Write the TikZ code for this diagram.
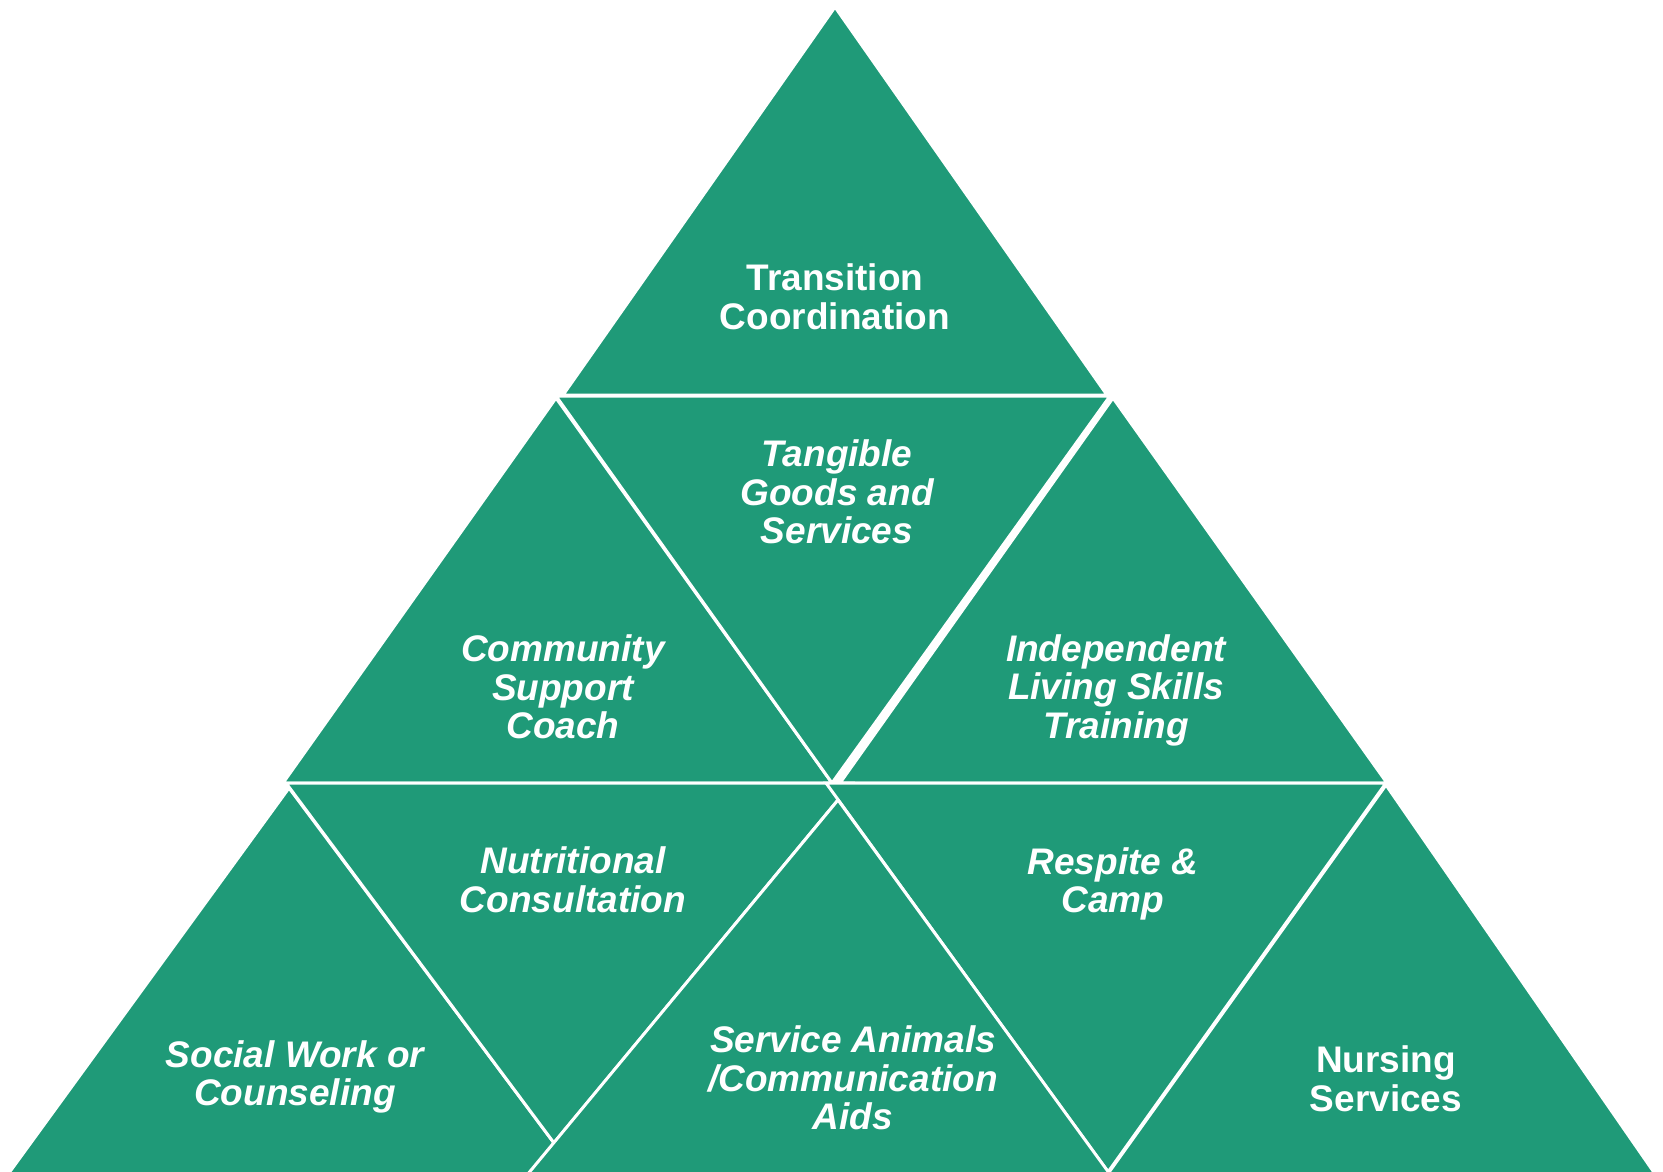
\documentclass[tikz,border=0pt]{standalone}
\usepackage{fontspec}
\setmainfont{Liberation Sans}
\definecolor{tgreen}{RGB}{31,154,120}
\begin{document}
\begin{tikzpicture}[x=1pt,y=-1pt,
  tri/.style={fill=tgreen,draw=white,line width=3pt,line join=miter},
  lbl/.style={text=white,align=center,inner sep=0pt,font=\fontsize{37}{38.5}\selectfont\bfseries\itshape},
  lblup/.style={lbl,font=\fontsize{37}{38.5}\selectfont\bfseries}]
\useasboundingbox (0,0) rectangle (1663,1172);
\clip (0,0) rectangle (1663,1172);
% row 1
\draw[tri] (835,7) -- (563,395) -- (1107,395) -- cycle;
% row 2
\draw[tri] (556,398) -- (283,783) -- (832,783) -- cycle;
\draw[tri] (556,396) -- (1110,396) -- (832,783) -- cycle;
\draw[tri] (1113,398) -- (840,783) -- (1387,783) -- cycle;
% row 3
\draw[tri] (289,788) -- (-18,1210) -- (604,1210) -- cycle;
\draw[tri] (286,783) -- (852,783) -- (554,1143) -- cycle;
\draw[tri] (826,783) -- (1386,783) -- (1108,1172) -- cycle;
\draw[tri] (838,800) -- (498,1210) -- (1136,1210) -- cycle;
\draw[tri] (1386,785) -- (1082,1210) -- (1680,1210) -- cycle;
% labels
\node[lblup] (t1) at (835,297) {Transition\\Coordination};
\node[lbl] (t2) at (837,492) {Tangible\\Goods and\\Services};
\node[lbl] (t3) at (563,687) {Community\\Support\\Coach};
\node[lbl] (t4) at (1116,690) {Independent\\Living Skills\\Training};
\node[lbl] (t5) at (573,880) {Nutritional\\Consultation};
\node[lbl] (t6) at (1113,884) {Respite \&\\Camp};
\node[lbl] (t7) at (295,1077) {Social Work or\\Counseling};
\node[lbl] (t8) at (853,1078) {Service Animals\\/Communication\\Aids};
\node[lblup] (t9) at (1386,1079) {Nursing\\Services};
\end{tikzpicture}
\end{document}
